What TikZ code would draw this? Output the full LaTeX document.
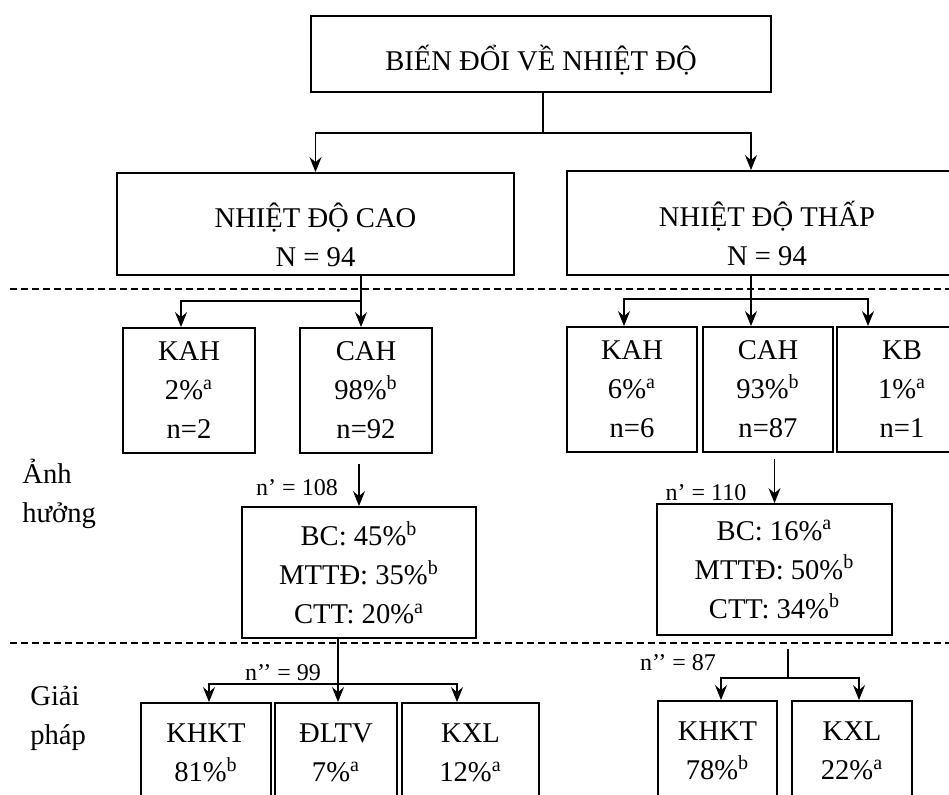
\documentclass[tikz,border=0pt]{standalone}
\usepackage{fontspec}
\setmainfont{Liberation Serif}
\usetikzlibrary{arrows.meta,positioning}
\newcommand{\tstrut}[1]{\rule{0pt}{#1}}
\newcommand{\supa}{\textsuperscript{a}}
\newcommand{\supb}{\textsuperscript{b}}

\begin{document}
\begin{tikzpicture}[
    x=0.5pt, y=-0.5pt,
    box/.style={draw, line width=0.9pt, align=center, inner sep=0pt, font=\fontsize{14.3}{19.5}\selectfont},
    tallbox/.style={box, minimum width=65pt, minimum height=62.5pt},
    lowbox/.style={box, minimum height=50pt},
    numlbl/.style={inner sep=0pt, font=\fontsize{12}{14}\selectfont},
    side/.style={inner sep=0pt, align=left, anchor=north west, font=\fontsize{14.3}{19.5}\selectfont},
    arrow/.style={-{Stealth[length=7.5pt, width=6pt, inset=2.5pt]}, line width=0.75pt},
    link/.style={line width=0.75pt},
    sep/.style={dash pattern=on 3.5pt off 2pt, line width=0.6pt}
  ]
    \useasboundingbox (0,0) rectangle (949,794);
    \node[box, minimum width=230pt, minimum height=38pt] (root) at (541,54) {\tstrut{19pt}BIẾN ĐỔI VỀ NHIỆT ĐỘ};
    \node[box, minimum width=198.5pt, minimum height=51pt] (hot) at (315.5,224) {\tstrut{23pt}NHIỆT ĐỘ CAO\\N = 94};
    \node[box, minimum width=200pt, minimum height=52pt] (cold) at (767,223) {\tstrut{23pt}NHIỆT ĐỘ THẤP\\N = 94};
    \node[tallbox, minimum width=66pt] (kah1) at (189,390.5) {KAH\\2\%\supa\\n=2};
    \node[tallbox, minimum width=66pt] (cah1) at (366,390.5) {CAH\\98\%\supb\\n=92};
    \node[tallbox] (kah2) at (632,389.5) {KAH\\6\%\supa\\n=6};
    \node[tallbox] (cah2) at (768,389.5) {CAH\\93\%\supb\\n=87};
    \node[tallbox] (kb) at (902,389.5) {KB\\1\%\supa\\n=1};
    \node[box, minimum width=117pt, minimum height=65.5pt] (eff1) at (359,572.5) {BC: 45\%\supb\\MTTĐ: 35\%\supb\\CTT: 20\%\supa};
    \node[box, minimum width=117.5pt, minimum height=65.5pt] (eff2) at (774.5,569.5) {BC: 16\%\supa\\MTTĐ: 50\%\supb\\CTT: 34\%\supb};
    \node[lowbox, minimum width=65pt] (khkt1) at (206,753) {KHKT\\81\%\supb};
    \node[lowbox, minimum width=61pt] (dltv) at (336,753) {ĐLTV\\7\%\supa};
    \node[lowbox, minimum width=68.5pt] (kxl1) at (470.5,753) {KXL\\12\%\supa};
    \node[lowbox, minimum width=59.5pt] (khkt2) at (717.5,751) {KHKT\\78\%\supb};
    \node[lowbox, minimum width=60pt] (kxl2) at (852,751) {KXL\\22\%\supa};
    \node[numlbl] (n1) at (297,488) {n’ = 108};
    \node[numlbl] (n2) at (706,493) {n’ = 110};
    \node[numlbl] (n3) at (283,673) {n’’ = 99};
    \node[numlbl] (n4) at (678,663) {n’’ = 87};
    \node[side] (impact) at (22,459) {Ảnh\\hưởng};
    \node[side] (solve) at (30,686) {Giải\\pháp};
    \draw[sep] (10,289) -- (949,289);
    \draw[sep] (10,643) -- (949,643);
    % branches
    \coordinate (f0) at (543,133);
    \draw[link] (root.south -| f0) -- (f0);
    \draw[arrow] (f0) -| (hot.north);
    \draw[arrow] (f0) -| ([xshift=-8pt]cold.north);
    \coordinate (f1) at (361,301);
    \draw[link] (hot.south -| f1) -- (f1);
    \draw[arrow] (f1) -- (f1 |- cah1.north);
    \draw[arrow] (f1) -| ([xshift=-4pt]kah1.north);
    \coordinate (f2) at (751,299);
    \draw[link] (cold.south -| f2) -- (f2);
    \draw[arrow] (f2) -| ([xshift=-4pt]kah2.north);
    \draw[arrow] (f2) -- (f2 |- cah2.north);
    \draw[arrow] (f2) -| ([xshift=-17pt]kb.north);
    \draw[arrow, shorten <=5pt] (cah1.south -| eff1.north) -- (eff1.north);
    \draw[arrow, shorten <=3pt] (cah2.south -| eff2.north) -- (eff2.north);
    \coordinate (f3) at (338,684);
    \draw[arrow] (eff1.south -| f3) -- (f3 |- dltv.north);
    \draw[arrow] (f3) -| ([xshift=1.5pt]khkt1.north);
    \draw[arrow] (f3) -| ([xshift=-6.75pt]kxl1.north);
    \coordinate (f4) at (788,678);
    \draw[link, shorten <=6.5pt] (eff2.south -| f4) -- (f4);
    \draw[arrow] (f4) -| ([xshift=1.75pt]khkt2.north);
    \draw[arrow] (f4) -| ([xshift=3.5pt]kxl2.north);
  \end{tikzpicture}
\end{document}
